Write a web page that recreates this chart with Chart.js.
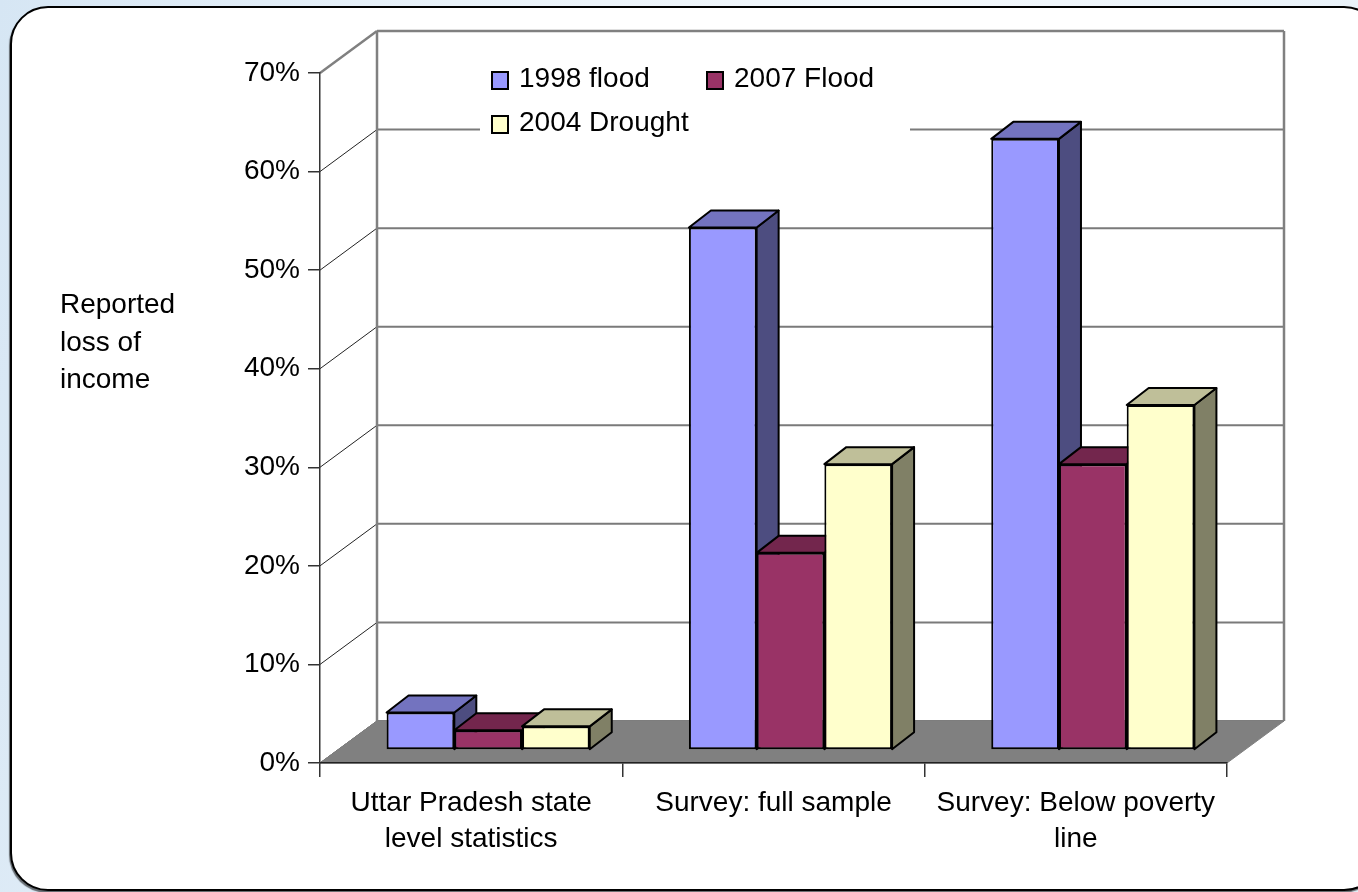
<!DOCTYPE html>
<html>
<head>
<meta charset="utf-8">
<script src="https://cdn.jsdelivr.net/npm/chart.js@4/dist/chart.umd.min.js"></script>
<style>
  html, body { margin: 0; padding: 0; }
  body {
    width: 1358px; height: 892px; overflow: hidden; position: relative;
    background: linear-gradient(100deg, #d6e6f4 0%, #e9f2f9 30%, #f3f8fc 60%, #e6f0f8 100%);
  }
  #frame {
    position: absolute; left: 10px; top: 6px; width: 1372px; height: 885px;
    box-sizing: border-box; border: 2px solid #000; border-radius: 38px;
    background: #fff; box-shadow: -1px 2px 1px rgba(0,0,0,0.55);
  }
  #chart { position: absolute; left: 0; top: 0; }
</style>
</head>
<body>
<div id="frame"></div>
<canvas id="chart" width="1358" height="892"></canvas>
<script>
// Categories (multi-line axis labels)
const categories = [
  ['Uttar Pradesh state', 'level statistics'],
  ['Survey: full sample'],
  ['Survey: Below poverty', 'line']
];

// Reported loss of income, percent
const flood1998 = [3.8, 53, 62];
const flood2007 = [2.0, 20, 29];
const drought2004 = [2.4, 29, 35];

const seriesNames = ['1998 flood', '2007 Flood', '2004 Drought'];
const yTicks = [0, 10, 20, 30, 40, 50, 60, 70];
const yTitle = ['Reported', 'loss of', 'income'];

const FONT = "'Liberation Sans', Arial, sans-serif";
const FONT_SIZE = 28;

// front / top / side shades for each series
const shades = [
  { front: '#9999FF', top: '#7373BF', side: '#4D4D80' },
  { front: '#993366', top: '#73264D', side: '#4D1A33' },
  { front: '#FFFFCC', top: '#BFBF99', side: '#808066' }
];

// 3D geometry: wall depth, bar offset inside the box, bar depth
const WALL = { dx: 57, dy: 42 };
const BAR_OFF = { dx: 17, dy: 13 };
const BAR_DEPTH = { dx: 22, dy: 17 };

function poly(ctx, pts, fill) {
  ctx.beginPath();
  ctx.moveTo(pts[0][0], pts[0][1]);
  for (let i = 1; i < pts.length; i++) ctx.lineTo(pts[i][0], pts[i][1]);
  ctx.closePath();
  ctx.fillStyle = fill;
  ctx.fill();
  ctx.stroke();
}

// Back wall, side-wall lines and floor
const wallsPlugin = {
  id: 'walls',
  beforeDraw(chart) {
    const ctx = chart.ctx;
    const a = chart.chartArea;
    const ys = chart.scales.y;
    ctx.save();
    yTicks.forEach(v => {
      const y = ys.getPixelForValue(v);
      const top = v === yTicks[yTicks.length - 1];
      ctx.strokeStyle = top ? '#808080' : '#7a7a7a';
      ctx.lineWidth = top ? 2.5 : 2;
      ctx.beginPath();
      ctx.moveTo(a.left + WALL.dx, y - WALL.dy);
      ctx.lineTo(a.right + WALL.dx, y - WALL.dy);
      ctx.stroke();
      ctx.strokeStyle = top ? '#808080' : '#222';
      ctx.lineWidth = top ? 2.5 : 1;
      ctx.beginPath();
      ctx.moveTo(a.left, y);
      ctx.lineTo(a.left + WALL.dx, y - WALL.dy);
      ctx.stroke();
    });
    ctx.strokeStyle = '#808080';
    ctx.lineWidth = 2.5;
    ctx.beginPath();
    ctx.moveTo(a.left + WALL.dx, a.top - WALL.dy);
    ctx.lineTo(a.left + WALL.dx, a.bottom - WALL.dy);
    ctx.moveTo(a.right + WALL.dx, a.top - WALL.dy);
    ctx.lineTo(a.right + WALL.dx, a.bottom - WALL.dy);
    ctx.stroke();
    ctx.strokeStyle = '#808080';
    ctx.lineWidth = 1;
    poly(ctx, [
      [a.left, a.bottom], [a.right, a.bottom],
      [a.right + WALL.dx, a.bottom - WALL.dy], [a.left + WALL.dx, a.bottom - WALL.dy]
    ], '#808080');
    ctx.restore();
  }
};

// Draw the series left to right: each bar is shifted into the box and gets
// its side and top faces before the library draws its front face.
const boxBarsPlugin = {
  id: 'boxBars',
  beforeDatasetsDraw(chart) {
    const ctx = chart.ctx;
    ctx.save();
    ctx.translate(BAR_OFF.dx, -BAR_OFF.dy);
    chart.data.datasets.forEach((ds, i) => {
      const meta = chart.getDatasetMeta(i);
      const sh = shades[i];
      ctx.save();
      ctx.strokeStyle = '#000';
      ctx.lineWidth = 2;
      ctx.lineJoin = 'round';
      meta.data.forEach(bar => {
        const p = bar.getProps(['x', 'y', 'base', 'width'], true);
        const l = p.x - p.width / 2, r = p.x + p.width / 2;
        const dx = BAR_DEPTH.dx, dy = BAR_DEPTH.dy;
        poly(ctx, [[r, p.y], [r + dx, p.y - dy], [r + dx, p.base - dy], [r, p.base]], sh.side);
        poly(ctx, [[l, p.y], [r, p.y], [r + dx, p.y - dy], [l + dx, p.y - dy]], sh.top);
      });
      ctx.restore();
      meta.controller.draw();
    });
    ctx.restore();
    return false;
  }
};

// Axis title and legend box
const textPlugin = {
  id: 'texts',
  afterDraw(chart) {
    const ctx = chart.ctx;
    ctx.save();
    ctx.font = FONT_SIZE + 'px ' + FONT;
    ctx.fillStyle = '#000';
    ctx.textBaseline = 'alphabetic';
    ctx.textAlign = 'left';
    yTitle.forEach((t, i) => ctx.fillText(t, 60, 313 + i * 37.5));

    ctx.fillStyle = '#fff';
    ctx.fillRect(480, 48, 430, 100);
    const items = [
      { x: 492, y: 72 }, { x: 707, y: 72 }, { x: 492, y: 116 }
    ];
    chart.data.datasets.forEach((ds, i) => {
      const it = items[i];
      ctx.fillStyle = ds.backgroundColor;
      ctx.fillRect(it.x, it.y, 16, 17);
      ctx.strokeStyle = '#000';
      ctx.lineWidth = 2;
      ctx.strokeRect(it.x, it.y, 16, 17);
      ctx.fillStyle = '#000';
      ctx.fillText(ds.label, it.x + 27, it.y + 15);
    });
    ctx.restore();
  }
};

const seriesValues = [flood1998, flood2007, drought2004];

new Chart(document.getElementById('chart'), {
  type: 'bar',
  data: {
    labels: categories,
    datasets: seriesValues.map((vals, i) => ({
      label: seriesNames[i],
      data: vals,
      backgroundColor: shades[i].front,
      borderColor: '#000',
      borderWidth: 2,
      borderSkipped: false,
      categoryPercentage: 0.672,
      barPercentage: 1,
      clip: false
    }))
  },
  options: {
    responsive: false,
    animation: false,
    devicePixelRatio: 1,
    layout: { padding: { left: 0, right: 131, top: 73, bottom: 0 } },
    plugins: { legend: { display: false }, tooltip: { enabled: false } },
    scales: {
      x: {
        offset: true,
        grid: { offset: true, drawOnChartArea: false, tickLength: 14, color: '#333', lineWidth: 1.5 },
        border: { display: true, color: '#222', width: 1.5 },
        ticks: {
          color: '#000', font: { family: FONT, size: FONT_SIZE, lineHeight: 1.27 },
          padding: 9, autoSkip: false, maxRotation: 0, minRotation: 0
        },
        afterFit(scale) { scale.height = 129; }
      },
      y: {
        min: 0, max: 70,
        grid: { drawOnChartArea: false, tickLength: 12, color: '#333', lineWidth: 1.5 },
        border: { display: true, color: '#333', width: 1.5 },
        ticks: {
          stepSize: 10, color: '#000', padding: 8,
          font: { family: FONT, size: FONT_SIZE },
          callback: v => v + '%'
        },
        afterFit(scale) { scale.width = 320; }
      }
    }
  },
  plugins: [wallsPlugin, boxBarsPlugin, textPlugin]
});
</script>
</body>
</html>
